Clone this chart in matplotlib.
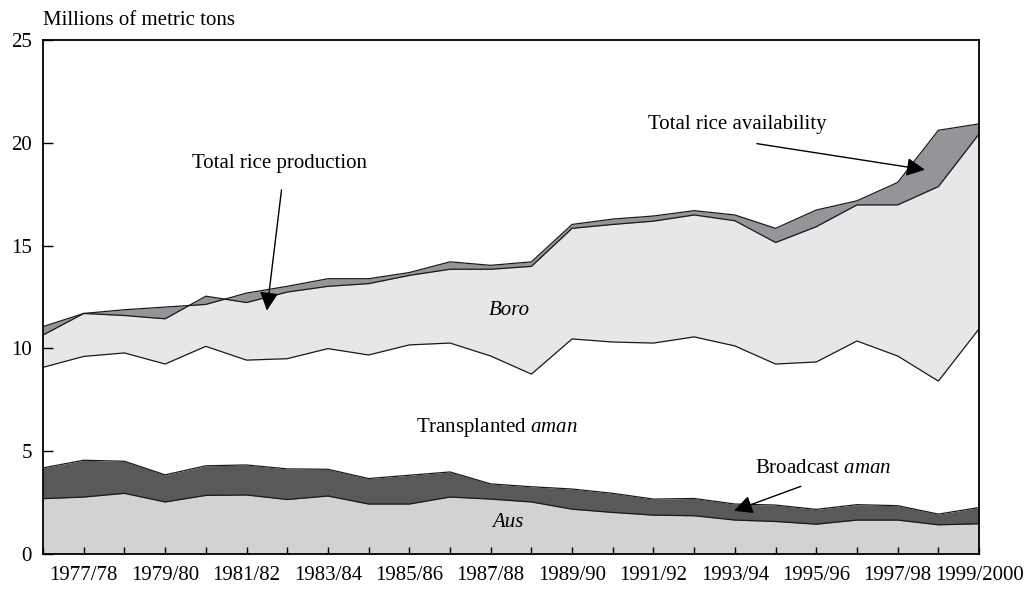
# Rice production by crop season in Bangladesh, stacked areas
# plus the gap between total production and total availability

import numpy as np
import matplotlib.pyplot as plt

seasons = ['1976/77', '1977/78', '1978/79', '1979/80', '1980/81', '1981/82',
           '1982/83', '1983/84', '1984/85', '1985/86', '1986/87', '1987/88',
           '1988/89', '1989/90', '1990/91', '1991/92', '1992/93', '1993/94',
           '1994/95', '1995/96', '1996/97', '1997/98', '1998/99', '1999/2000']

aus = [2.69, 2.77, 2.95, 2.53, 2.85, 2.87, 2.65, 2.82, 2.43, 2.43, 2.77, 2.67,
       2.53, 2.18, 2.02, 1.89, 1.86, 1.65, 1.58, 1.45, 1.65, 1.65, 1.42, 1.47]
broadcast_aman = [1.50, 1.79, 1.56, 1.32, 1.44, 1.46, 1.49, 1.30, 1.24, 1.40, 1.22, 0.74,
                  0.74, 0.98, 0.93, 0.78, 0.84, 0.78, 0.80, 0.72, 0.75, 0.70, 0.52, 0.79]
transplanted_aman = [4.89, 5.05, 5.27, 5.39, 5.81, 5.10, 5.36, 5.87, 6.01, 6.34, 6.27, 6.22,
                     5.48, 7.30, 7.36, 7.59, 7.86, 7.69, 6.86, 7.17, 7.96, 7.28, 6.47, 8.69]
boro = [1.57, 2.09, 1.82, 2.20, 2.44, 2.80, 3.24, 3.03, 3.47, 3.38, 3.59, 4.22,
        5.24, 5.38, 5.72, 5.93, 5.93, 6.09, 5.91, 6.58, 6.62, 7.35, 9.46, 9.48]
availability = [11.06, 11.70, 11.88, 12.01, 12.14, 12.69, 13.02, 13.39, 13.39, 13.69, 14.21, 14.04,
                14.21, 16.03, 16.29, 16.44, 16.70, 16.49, 15.84, 16.73, 17.18, 18.07, 20.61, 20.92]

plt.rcParams['font.family'] = ['Liberation Serif', 'DejaVu Serif']
plt.rcParams['font.size'] = 15
plt.rcParams['mathtext.fontset'] = 'custom'
plt.rcParams['mathtext.rm'] = 'Liberation Serif'
plt.rcParams['mathtext.it'] = 'Liberation Serif:italic'

x = np.arange(len(seasons))
c1 = np.array(aus)
c2 = c1 + np.array(broadcast_aman)
c3 = c2 + np.array(transplanted_aman)
c4 = c3 + np.array(boro)   # total production
avail = np.array(availability)

fig = plt.figure(figsize=(10.32, 5.92), dpi=100)
ax = fig.add_axes([0.0417, 0.0642, 0.907, 0.8682])

lw = 0.9
ax.fill_between(x, 0, c1, color='#d1d2d4', lw=0)
ax.fill_between(x, c1, c2, color='#58595b', lw=0)
ax.fill_between(x, c2, c3, color='white', lw=0)
ax.fill_between(x, c3, c4, color='#e6e7e8', lw=0)
ax.fill_between(x, c4, avail, color='#939598', lw=0)
for line in (c1, c2, c3, c4, avail):
    ax.plot(x, line, color='#1a1a1a', lw=lw)

ax.set_xlim(0, len(seasons) - 1)
ax.set_ylim(0, 25)
ax.set_yticks([0, 5, 10, 15, 20, 25])
ax.set_xticks(x)
ax.set_xticklabels([s if i % 2 == 1 else '' for i, s in enumerate(seasons)])
ax.tick_params(axis='x', direction='in', length=5, width=1, pad=9)
ax.tick_params(axis='y', direction='in', length=7, width=1, pad=8)
for sp in ax.spines.values():
    sp.set_linewidth(1.3)

ax.text(0, 1.02, 'Millions of metric tons', transform=ax.transAxes,
        ha='left', va='bottom')

arrow = dict(arrowstyle='-|>', mutation_scale=28, color='black', lw=1,
             shrinkA=0, shrinkB=0)
ax.text(5.82, 19.0, 'Total rice production', ha='center', va='center')
ax.annotate('', xy=(5.50, 11.84), xytext=(5.86, 17.71), arrowprops=arrow)
ax.text(17.05, 20.87, 'Total rice availability', ha='center', va='center')
ax.annotate('', xy=(21.67, 18.69), xytext=(17.54, 19.96), arrowprops=arrow)
ax.text(19.16, 4.15, 'Broadcast $\\it{aman}$', ha='center', va='center')
ax.annotate('', xy=(16.98, 2.10), xytext=(18.62, 3.29), arrowprops=arrow)

ax.text(11.45, 11.83, 'Boro', style='italic', ha='center', va='center')
ax.text(11.15, 6.16, 'Transplanted $\\it{aman}$', ha='center', va='center')
ax.text(11.43, 1.52, 'Aus', style='italic', ha='center', va='center')

plt.savefig('out.png', dpi=100)
